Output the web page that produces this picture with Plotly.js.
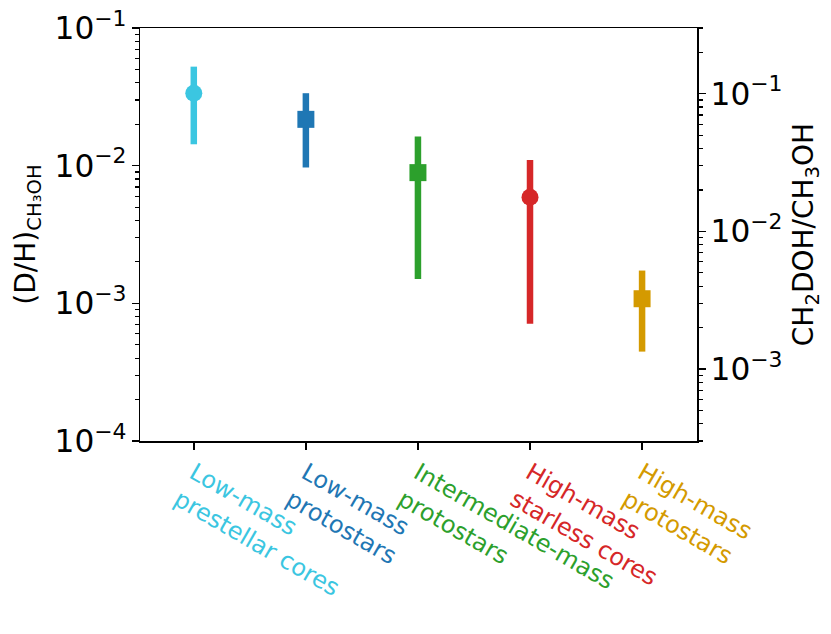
<!DOCTYPE html>
<html>
<head>
<meta charset="utf-8">
<script src="https://cdn.plot.ly/plotly-3.0.1.min.js"></script>
<style>
  body { margin: 0; background: #fff; }
  #chart { width: 831px; height: 634px; }
</style>
</head>
<body>
<div id="chart"></div>
<script>
// data ---------------------------------------------------------------
const categories = ["Low-mass<br>prestellar cores", "Low-mass<br>protostars",
    "Intermediate-mass<br>protostars", "High-mass<br>starless cores", "High-mass<br>protostars"];
const dh = [0.0336, 0.0217, 0.0089, 0.0059, 0.00108];      // (D/H)CH3OH
const dhUpper = [0.0524, 0.0336, 0.0163, 0.0110, 0.00173];
const dhLower = [0.0143, 0.0097, 0.0015, 0.00071, 0.000446];
const symbols = ["circle", "square", "square", "circle", "square"];
const colors = ["#3bc6e1", "#1f77b4", "#2ca02c", "#d62728", "#d49a00"];
const ratioFactor = 3; // CH2DOH/CH3OH = 3 x (D/H)

const fontFam = "DejaVu Sans, sans-serif";

// traces -------------------------------------------------------------
let data = [];
for (let i = 0; i < dh.length; i++) {
    data.push({
        x: [i], y: [dh[i]],
        type: "scatter", mode: "markers",
        marker: { symbol: symbols[i], size: 17, color: colors[i] },
        error_y: {
            type: "data", symmetric: false,
            array: [dhUpper[i] - dh[i]], arrayminus: [dh[i] - dhLower[i]],
            color: colors[i], thickness: 6.5, width: 0
        },
        showlegend: false, hoverinfo: "y"
    });
}
// invisible trace so the right axis gets drawn
data.push({
    x: dh.map((v, i) => i), y: dh.map(v => v * ratioFactor),
    yaxis: "y2", type: "scatter", mode: "markers",
    marker: { opacity: 0 }, showlegend: false, hoverinfo: "skip"
});

const tickText = categories.map((c, i) => '<span style="color:' + colors[i] + '">' + c + '</span>');

const layout = {
    width: 831, height: 634,
    margin: { l: 140, r: 134, t: 28, b: 193 },
    paper_bgcolor: "white", plot_bgcolor: "white",
    font: { family: fontFam, color: "black" },
    xaxis: {
        range: [-0.48, 4.49],
        tickvals: categories.map((c, i) => i),
        ticktext: tickText,
        tickangle: 30,
        tickfont: { size: 24 },
        ticks: "outside", ticklen: 7, tickwidth: 1.5, tickcolor: "black",
        showline: true, mirror: true, linecolor: "black", linewidth: 1.5,
        showgrid: false, zeroline: false
    },
    yaxis: {
        type: "log",
        range: [-4, -1],
        dtick: 1, exponentformat: "power",
        tickfont: { size: 25 },
        ticks: "outside", ticklen: 7, tickwidth: 1.5, tickcolor: "black",
        minor: { ticks: "outside", ticklen: 4, tickwidth: 1.2, tickcolor: "black", dtick: "D1", showgrid: false },
        showline: true, linecolor: "black", linewidth: 1.5,
        showgrid: false, zeroline: false,
        title: { text: "(D/H)<sub>CH₃OH</sub>", font: { size: 28 }, standoff: 10 }
    },
    yaxis2: {
        type: "log", overlaying: "y", side: "right",
        range: [Math.log10(3e-4), Math.log10(3e-1)],
        dtick: 1, exponentformat: "power",
        tickfont: { size: 25 },
        ticks: "outside", ticklen: 7, tickwidth: 1.5, tickcolor: "black",
        minor: { ticks: "outside", ticklen: 4, tickwidth: 1.2, tickcolor: "black", dtick: "D1", showgrid: false },
        showline: true, linecolor: "black", linewidth: 1.5,
        showgrid: false, zeroline: false,
        title: { text: "CH<sub>2</sub>DOH/CH<sub>3</sub>OH", font: { size: 28 }, standoff: 12 }
    }
};

Plotly.newPlot("chart", data, layout, { staticPlot: true });
</script>
</body>
</html>
